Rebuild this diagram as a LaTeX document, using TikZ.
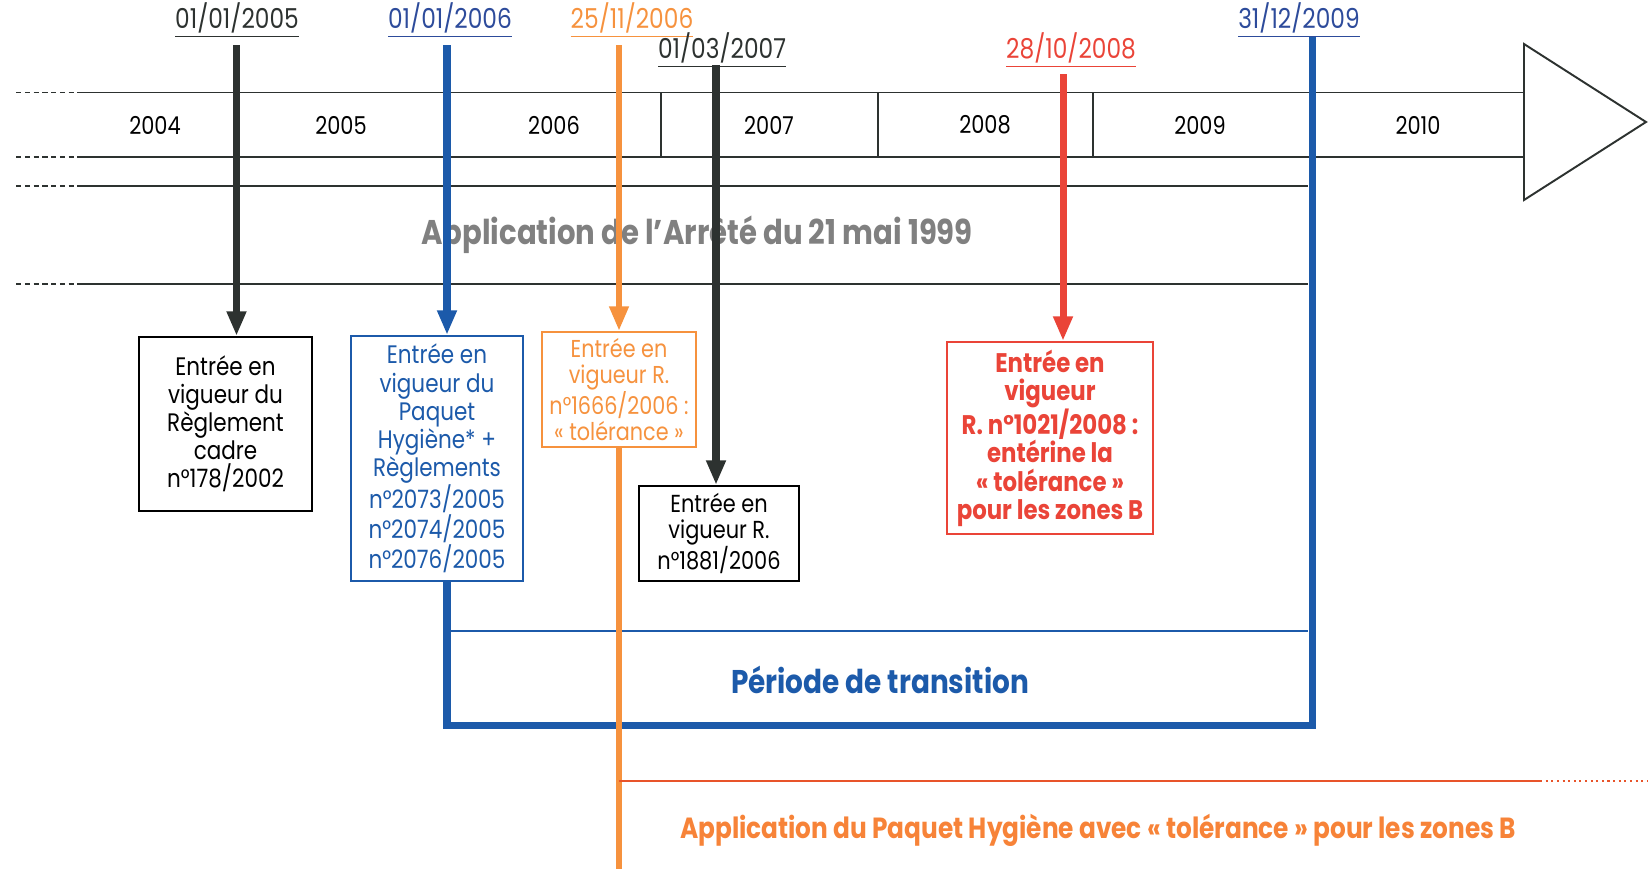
\documentclass[tikz,border=0pt]{standalone}
\usepackage{fontspec}
\setmainfont{Poppins}[FakeStretch=0.85]
\usetikzlibrary{arrows.meta,positioning,calc}
\definecolor{lineblack}{RGB}{45,50,48}
\definecolor{hygblue}{RGB}{28,90,170}
\definecolor{dateblue}{RGB}{45,75,155}
\definecolor{tolorange}{RGB}{246,146,62}
\definecolor{tolred}{RGB}{234,68,56}
\definecolor{tolline}{RGB}{232,84,42}
\definecolor{arretegray}{RGB}{128,128,128}

\begin{document}
\begin{tikzpicture}[x=0.02cm,y=-0.02cm,
    yearlabel/.style={font=\fontsize{14}{16}\selectfont},
    datelabel/.style={font=\fontsize{15.6}{17}\selectfont, inner sep=0pt},
    textbox/.style={draw, fill=white, line width=1.3pt, align=center, inner sep=2pt,
        font=\fontsize{14.4}{16}\selectfont},
    timeband/.style={line width=1.1pt, lineblack},
    bandtail/.style={timeband, dash pattern=on 3pt off 2pt},
    datearrow/.style={line width=4.5pt, -{Triangle[width=10.5pt,length=14pt]}},
    bigtext/.style={font=\fontsize{19.5}{22}\selectfont\bfseries}
]
    \useasboundingbox (0,0) rectangle (1648,869);

    % Time axis
    \draw[bandtail] (16,92.5) -- (79,92.5);
    \draw[bandtail] (16,156.6) -- (79,156.6);
    \draw[timeband] (79,92.5) -- (1524,92.5);
    \draw[timeband] (79,156.6) -- (1524,156.6);
    \foreach \xd in {236,447,661,878,1093,1312}
        \draw[timeband] (\xd,92.5) -- (\xd,156.6);
    \draw[timeband, fill=white] (1524,44) -- (1646,122) -- (1524,200) -- cycle;
    \foreach \yr/\xc in {2004/155,2005/341,2006/554,2007/769,2008/985,2009/1200,2010/1418}
        \node[yearlabel] (y\yr) at (\xc,125) {\yr};

    % Arrete band
    \draw[bandtail] (16,186) -- (79,186);
    \draw[bandtail] (16,284) -- (79,284);
    \draw[timeband] (79,186) -- (1308,186);
    \draw[timeband] (79,284) -- (1308,284);
    \node[bigtext, text=arretegray] (arrete) at (697,235) {Application de l'Arrêté du 21 mai 1999};

    % Dates
    \node[datelabel, text=lineblack] (d2005) at (237,20) {\underline{01/01/2005}};
    \node[datelabel, text=dateblue] (d2006) at (450,20) {\underline{01/01/2006}};
    \node[datelabel, text=tolorange] (d2006o) at (632,20) {\underline{25/11/2006}};
    \node[datelabel, text=lineblack] (d2007) at (722,50) {\underline{01/03/2007}};
    \node[datelabel, text=tolred] (d2008) at (1071,50) {\underline{28/10/2008}};
    \node[datelabel, text=dateblue] (d2009) at (1299,20) {\underline{31/12/2009}};

    \coordinate (t2005) at (236.5,45);
    \coordinate (t2006) at (447,45);
    \coordinate (t2006o) at (619,45);
    \coordinate (t2007) at (716,65);
    \coordinate (t2008) at (1063,74);
    \coordinate (t2009) at (1312,37);

    % Boxes
    \node[textbox, text=black, minimum width=3.46cm, minimum height=3.48cm] (reg178) at (225.5,424)
        {Entrée en\\vigueur du\\Règlement\\cadre\\n°178/2002};
    \node[textbox, draw=hygblue, text=hygblue, minimum width=3.44cm, minimum height=4.9cm] (paquet) at (437,458.5)
        {Entrée en\\vigueur du\\Paquet\\Hygiène* +\\Règlements\\n°2073/2005\\n°2074/2005\\n°2076/2005};
    \node[textbox, draw=tolorange, text=tolorange, font=\fontsize{13.9}{14.6}\selectfont,
        minimum width=3.08cm, minimum height=2.3cm] (reg1666) at (619,389.5)
        {Entrée en\\vigueur R.\\n°1666/2006 :\\«~tolérance~»};
    \node[textbox, text=black, font=\fontsize{14}{14.8}\selectfont,
        minimum width=3.2cm, minimum height=1.9cm] (reg1881) at (719,533.5)
        {Entrée en\\vigueur R.\\n°1881/2006};
    \node[textbox, draw=tolred, text=tolred, font=\fontsize{15.3}{16}\selectfont\bfseries,
        minimum width=4.12cm, minimum height=3.84cm] (reg1021) at (1050,438)
        {Entrée en\\vigueur\\R. n°1021/2008 :\\entérine la\\«~tolérance~»\\pour les zones B};

    % Date lines
    \draw[datearrow, lineblack] (t2005) -- (t2005 |- reg178.north);
    \draw[datearrow, hygblue, line width=4pt] (t2006) -- (t2006 |- paquet.north);
    \draw[datearrow, tolorange, line width=3.4pt] (t2006o) -- (t2006o |- reg1666.north);
    \draw[datearrow, lineblack] (t2007) -- (t2007 |- reg1881.north);
    \draw[datearrow, tolred, line width=4pt] (t2008) -- (t2008 |- reg1021.north);

    % Transition
    \coordinate (trL) at (447,725);
    \coordinate (trR) at (1312,725);
    \coordinate (trTop) at (1308,631);
    \draw[hygblue, line width=0.9pt] (trTop -| t2006) -- (trTop);
    \draw[hygblue, line width=4pt] (t2006 |- paquet.south) -- (trL) -- (trR) -- (t2009);
    \node[bigtext, text=hygblue, font=\fontsize{18.7}{22}\selectfont\bfseries] (transition) at (880,680)
        {Période de transition};

    % Tolerance
    \coordinate (tolEnd) at (619,869);
    \coordinate (tolL) at (619,781);
    \coordinate (tolR) at (1540,781);
    \coordinate (tolDot) at (1648,781);
    \draw[tolorange, line width=3.4pt] (t2006o |- reg1666.south) -- (tolEnd);
    \draw[tolline, line width=1.2pt] (tolL) -- (tolR);
    \draw[tolline, line width=1.2pt, dotted] (tolR) -- (tolDot);
    \node[bigtext, text=tolorange!90!red, font=\fontsize{16.6}{20}\selectfont\bfseries] (application) at (1098,830)
        {Application du Paquet Hygiène avec «~tolérance~» pour les zones B};
\end{tikzpicture}
\end{document}
